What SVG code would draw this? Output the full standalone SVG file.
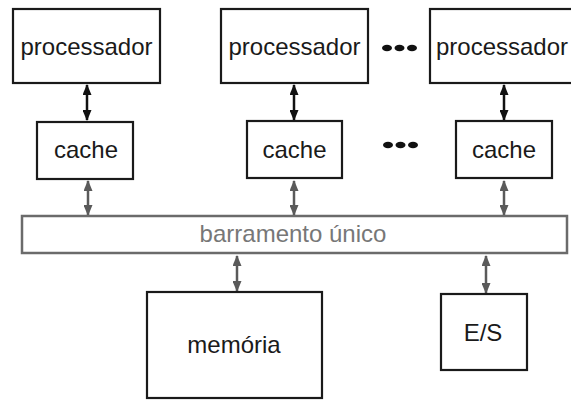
<svg xmlns="http://www.w3.org/2000/svg" width="571" height="400" viewBox="0 0 571 400">
<style>
.box{fill:#fff;stroke:#1a1a1a;stroke-width:2.2}
.bus{fill:#fff;stroke:#6b6b6b;stroke-width:2.5}
.t{font-family:"Liberation Sans",Arial,sans-serif;font-size:24px;fill:#1a1a1a;text-anchor:middle}
.tb{font-family:"Liberation Sans",Arial,sans-serif;font-size:24px;fill:#777;text-anchor:middle}
.ab{stroke:#111;stroke-width:2.5;fill:none;marker-start:url(#hb);marker-end:url(#hb)}
.ag{stroke:#5a5a5a;stroke-width:2.5;fill:none;marker-start:url(#hg);marker-end:url(#hg)}
.dot{fill:#111}
</style>
<defs>
<marker id="hb" viewBox="0 0 11 9" refX="10" refY="4.5" markerWidth="11" markerHeight="9" markerUnits="userSpaceOnUse" orient="auto-start-reverse"><path d="M0,0 L11,4.5 L0,9 z" fill="#111"/></marker>
<marker id="hg" viewBox="0 0 11 9" refX="10" refY="4.5" markerWidth="11" markerHeight="9" markerUnits="userSpaceOnUse" orient="auto-start-reverse"><path d="M0,0 L11,4.5 L0,9 z" fill="#5a5a5a"/></marker>
</defs>
<rect width="571" height="400" fill="#fff"/>
<g id="connectors">
<line class="ab" x1="87" y1="85" x2="87" y2="120"/>
<line class="ab" x1="294" y1="85" x2="294" y2="120"/>
<line class="ab" x1="504" y1="85" x2="504" y2="120"/>
<line class="ag" x1="88" y1="181" x2="88" y2="215"/>
<line class="ag" x1="294" y1="181" x2="294" y2="215"/>
<line class="ag" x1="504" y1="181" x2="504" y2="215"/>
<line class="ag" x1="237" y1="256" x2="237" y2="291"/>
<line class="ag" x1="486" y1="256" x2="486" y2="293"/>
</g>
<g id="proc1"><rect class="box" x="13" y="9" width="147" height="74"/><text class="t" x="86.5" y="55">processador</text></g>
<g id="proc2"><rect class="box" x="221" y="9" width="147" height="74"/><text class="t" x="294.5" y="55">processador</text></g>
<g id="proc3"><rect class="box" x="430" y="9" width="150" height="74"/><text class="t" x="502" y="55">processador</text></g>
<g id="dots1"><ellipse class="dot" cx="387" cy="48" rx="5" ry="3.2"/><ellipse class="dot" cx="399.5" cy="48" rx="5" ry="3.2"/><ellipse class="dot" cx="412" cy="48" rx="5" ry="3.2"/></g>
<g id="cache1"><rect class="box" x="37" y="122" width="96" height="57"/><text class="t" x="86" y="158">cache</text></g>
<g id="cache2"><rect class="box" x="247" y="121" width="95" height="57"/><text class="t" x="294.5" y="158">cache</text></g>
<g id="cache3"><rect class="box" x="456" y="121" width="96" height="57"/><text class="t" x="504" y="158">cache</text></g>
<g id="dots2"><ellipse class="dot" cx="388" cy="145" rx="5" ry="3.2"/><ellipse class="dot" cx="400.5" cy="145" rx="5" ry="3.2"/><ellipse class="dot" cx="413" cy="145" rx="5" ry="3.2"/></g>
<g id="bus"><rect class="bus" x="22" y="216" width="545" height="37"/><text class="tb" x="293" y="242">barramento único</text></g>
<g id="memoria"><rect class="box" x="147" y="292" width="175" height="106"/><text class="t" x="234" y="353">memória</text></g>
<g id="es"><rect class="box" x="441" y="294" width="86" height="76"/><text class="t" x="483" y="341">E/S</text></g>
</svg>
